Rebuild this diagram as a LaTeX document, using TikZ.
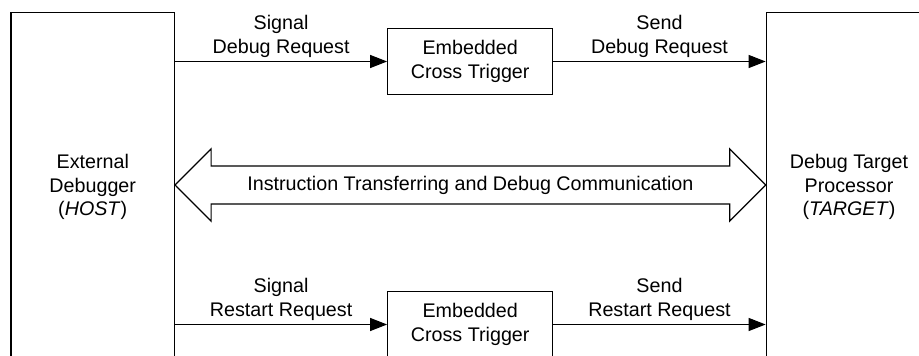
\documentclass[tikz,border=0pt]{standalone}
\usepackage{fontspec}
\setmainfont{Liberation Sans}
\usetikzlibrary{arrows.meta,calc,positioning}
\begin{document}
\begin{tikzpicture}[x=1pt,y=1pt,line width=1.2pt,
  txt/.style={font=\fontsize{19.7}{23.6}\selectfont, align=center, inner sep=0pt},
  bigbox/.style={draw, minimum width=163.5pt, minimum height=400pt, inner sep=0pt},
  ectbox/.style={draw, minimum width=165pt, minimum height=65.6pt, inner sep=0pt, font=\fontsize{19.7}{23.6}\selectfont, align=center},
  sig/.style={-{Triangle[length=17pt,width=13pt]}}
]
\useasboundingbox (0,0) rectangle (919,356);
\fill[white] (0,0) rectangle (919,356);
\clip (0,0) rectangle (919,356);

% big boxes (cut off by the picture edge)
\node[bigbox] (host) at (92.75,143.7) {};
\node[bigbox] (target) at (848,143.7) {};
\node[txt] (hostlabel) at (92.75,168.8) {External\\Debugger\\(\textit{HOST})};
\node[txt] (targetlabel) at (849,168.8) {Debug Target\\Processor\\(\textit{TARGET})};

% embedded cross trigger boxes
\node[ectbox] (ect1) at (470.2,294.5) {Embedded\\Cross Trigger};
\node[ectbox] (ect2) at (470.2,31.5) {Embedded\\Cross Trigger};

% signal arrows
\coordinate (h1) at (host.east |- ect1.west);
\coordinate (t1) at (ect1.east -| target.west);
\coordinate (h2) at (host.east |- ect2.west);
\coordinate (t2) at (ect2.east -| target.west);
\draw[sig] (h1) -- (ect1.west);
\draw[sig] (ect1.east) -- (t1);
\draw[sig] (h2) -- (ect2.west);
\draw[sig] (ect2.east) -- (t2);

\node[txt, above=3.3pt] (l1) at ($(h1)!0.5!(ect1.west)$) {Signal\\Debug Request};
\node[txt, above=3.3pt] (l2) at ($(ect1.east)!0.5!(t1)$) {Send\\Debug Request};
\node[txt, above=3.3pt] (l3) at ($(h2)!0.5!(ect2.west)$) {Signal\\Restart Request};
\node[txt, above=3.3pt] (l4) at ($(ect2.east)!0.5!(t2)$) {Send\\Restart Request};

% double block arrow
\coordinate (L) at (host.east |- 0,171);
\coordinate (R) at (target.west |- 0,171);
\draw[line join=miter] (L) -- ([shift={(36,36.2)}]L) -- ([shift={(36,19)}]L)
  -- ([shift={(-36,19)}]R) -- ([shift={(-36,36.2)}]R) -- (R)
  -- ([shift={(-36,-36.2)}]R) -- ([shift={(-36,-19)}]R)
  -- ([shift={(36,-19)}]L) -- ([shift={(36,-36.2)}]L) -- cycle;
\node[txt] (comm) at ($(L)!0.5!(R)$) {Instruction Transferring and Debug Communication};
\end{tikzpicture}
\end{document}
